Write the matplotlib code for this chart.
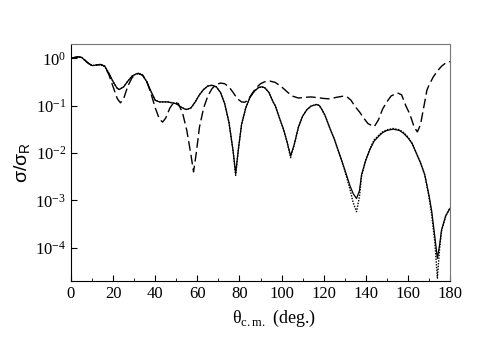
import matplotlib
matplotlib.use('Agg')
from matplotlib import pyplot as plt
from matplotlib.ticker import MultipleLocator, LogLocator, NullFormatter

plt.rcParams['font.family'] = ['Liberation Serif', 'DejaVu Serif']

# dashed curve
dash_angle = [0, 3, 5, 8, 10, 12, 14, 16, 18, 20, 22, 23.5, 25, 27, 29, 31, 32, 34, 36, 38,
              40, 42, 43.5, 45, 47, 49, 51, 53, 55, 57, 58.2, 59.5, 61, 63, 65, 67, 69, 71,
              73, 75, 77, 79, 81, 82.5, 84, 86, 88, 90, 92, 94.5, 97, 100, 103, 105, 108,
              111, 114, 117, 120, 123, 126, 129, 131, 133, 135, 137, 139, 141, 144, 146,
              148, 150, 152, 155, 157, 159, 161, 163, 164.5, 166, 168, 169, 170, 172, 174,
              176, 178, 180]
dash_sigma = [1.0, 1.07, 1.05, 0.80, 0.70, 0.72, 0.74, 0.68, 0.45, 0.25, 0.14, 0.115, 0.14,
              0.26, 0.39, 0.46, 0.48, 0.44, 0.32, 0.18, 0.09, 0.052, 0.045, 0.055, 0.09, 0.12,
              0.11, 0.07, 0.03, 0.009, 0.004, 0.010, 0.035, 0.09, 0.16, 0.23, 0.28, 0.30,
              0.29, 0.25, 0.19, 0.14, 0.12, 0.118, 0.13, 0.18, 0.24, 0.29, 0.32, 0.33, 0.31,
              0.25, 0.19, 0.16, 0.145, 0.15, 0.153, 0.148, 0.142, 0.139, 0.15, 0.158, 0.155,
              0.13, 0.095, 0.074, 0.055, 0.042, 0.036, 0.05, 0.085, 0.12, 0.16, 0.186, 0.17,
              0.10, 0.065, 0.035, 0.028, 0.04, 0.12, 0.21, 0.27, 0.40, 0.54, 0.68, 0.80, 0.85]

# solid curve
solid_angle = [0, 3, 5, 8, 10, 12, 14, 16, 18, 20, 22, 23, 25, 27, 29, 31, 32, 34, 36, 38,
               40, 42, 44, 46, 48, 50, 52, 54, 55, 57, 59, 61, 63, 65, 67, 69, 71, 73, 75,
               77, 78.2, 79.5, 81, 83, 85, 87, 89, 90.5, 92, 94, 96, 97, 99, 100.8, 102.5,
               104.3, 106, 108, 110, 112, 114, 116.7, 118, 119, 120.6, 123, 125, 127.7, 130,
               132.4, 134, 135.6, 137, 138, 140, 142, 144, 146.7, 148, 150, 153, 156, 158,
               160, 162, 164, 166, 168, 170, 171.3, 172.8, 174, 175, 176, 178, 180]
solid_sigma = [1.0, 1.07, 1.05, 0.80, 0.70, 0.72, 0.74, 0.68, 0.48, 0.32, 0.23, 0.22, 0.25,
               0.33, 0.42, 0.47, 0.48, 0.44, 0.32, 0.20, 0.13, 0.12, 0.12, 0.12, 0.115, 0.11,
               0.095, 0.085, 0.083, 0.09, 0.12, 0.17, 0.22, 0.26, 0.27, 0.25, 0.19, 0.11,
               0.045, 0.011, 0.0037, 0.012, 0.04, 0.09, 0.15, 0.20, 0.24, 0.25, 0.24, 0.19,
               0.12, 0.10, 0.055, 0.033, 0.018, 0.0087, 0.015, 0.035, 0.06, 0.082, 0.098,
               0.106, 0.10, 0.085, 0.063, 0.033, 0.02, 0.009, 0.0045, 0.0021, 0.0014, 0.0011,
               0.0016, 0.0035, 0.0071, 0.012, 0.018, 0.024, 0.027, 0.030, 0.032, 0.030, 0.026,
               0.021, 0.016, 0.010, 0.0062, 0.0035, 0.0013, 0.0006, 0.00017, 0.00006, 0.00011,
               0.00024, 0.00048, 0.00068]

# dotted curve
dot_angle = solid_angle
dot_sigma = [1.0, 1.07, 1.05, 0.80, 0.70, 0.72, 0.74, 0.68, 0.48, 0.32, 0.23, 0.22, 0.25,
             0.33, 0.42, 0.47, 0.48, 0.44, 0.32, 0.20, 0.13, 0.12, 0.12, 0.12, 0.115, 0.11,
             0.095, 0.085, 0.083, 0.09, 0.12, 0.17, 0.22, 0.26, 0.27, 0.25, 0.19, 0.11,
             0.045, 0.011, 0.0034, 0.012, 0.04, 0.09, 0.15, 0.20, 0.24, 0.25, 0.24, 0.19,
             0.12, 0.10, 0.055, 0.033, 0.018, 0.0080, 0.015, 0.035, 0.06, 0.082, 0.098,
             0.107, 0.10, 0.085, 0.063, 0.033, 0.02, 0.009, 0.0043, 0.0018, 0.0009, 0.00058,
             0.0012, 0.0033, 0.0072, 0.0125, 0.019, 0.025, 0.028, 0.031, 0.033, 0.031, 0.027,
             0.022, 0.016, 0.010, 0.0062, 0.0035, 0.0012, 0.0005, 0.00013, 0.000023, 0.00009,
             0.00023, 0.00047, 0.0007]

fig = plt.figure(figsize=(4.91, 3.42), dpi=100)
ax = fig.add_axes([0.1446, 0.1784, 0.9165 - 0.1446, 0.8713 - 0.1784])

ax.plot(dash_angle, dash_sigma, color='black', lw=1.0, dashes=(7, 3))
ax.plot(solid_angle, solid_sigma, color='black', lw=0.9)
ax.plot(dot_angle, dot_sigma, color='black', lw=1.0, linestyle=(0, (1, 1)))

ax.set_yscale('log')
ax.set_xlim(0, 180)
ax.set_ylim(2e-5, 2.0)
ax.xaxis.set_major_locator(MultipleLocator(20))
ax.xaxis.set_minor_locator(MultipleLocator(10))
ax.yaxis.set_major_locator(LogLocator(base=10, numticks=10))
ax.yaxis.set_minor_locator(LogLocator(base=10, subs=[], numticks=10))
ax.yaxis.set_minor_formatter(NullFormatter())
ax.tick_params(which='both', direction='in', labelsize=12, top=False, right=False)
ax.tick_params(which='major', length=4)
ax.tick_params(which='minor', length=2)

for side in ['top', 'right']:
    ax.spines[side].set_color('#777777')
for side in ['left', 'bottom']:
    ax.spines[side].set_color('black')

ax.set_xlabel('θ$_\\mathdefault{c.m.}$ (deg.)', fontsize=13)
ax.xaxis.set_label_coords(0.535, -0.115)
ax.set_ylabel('σ/σ$_\\mathdefault{R}$', fontsize=14, family='Liberation Sans')
ax.yaxis.set_label_coords(-0.1, 0.5)

fig.savefig('out.png', dpi=100)
